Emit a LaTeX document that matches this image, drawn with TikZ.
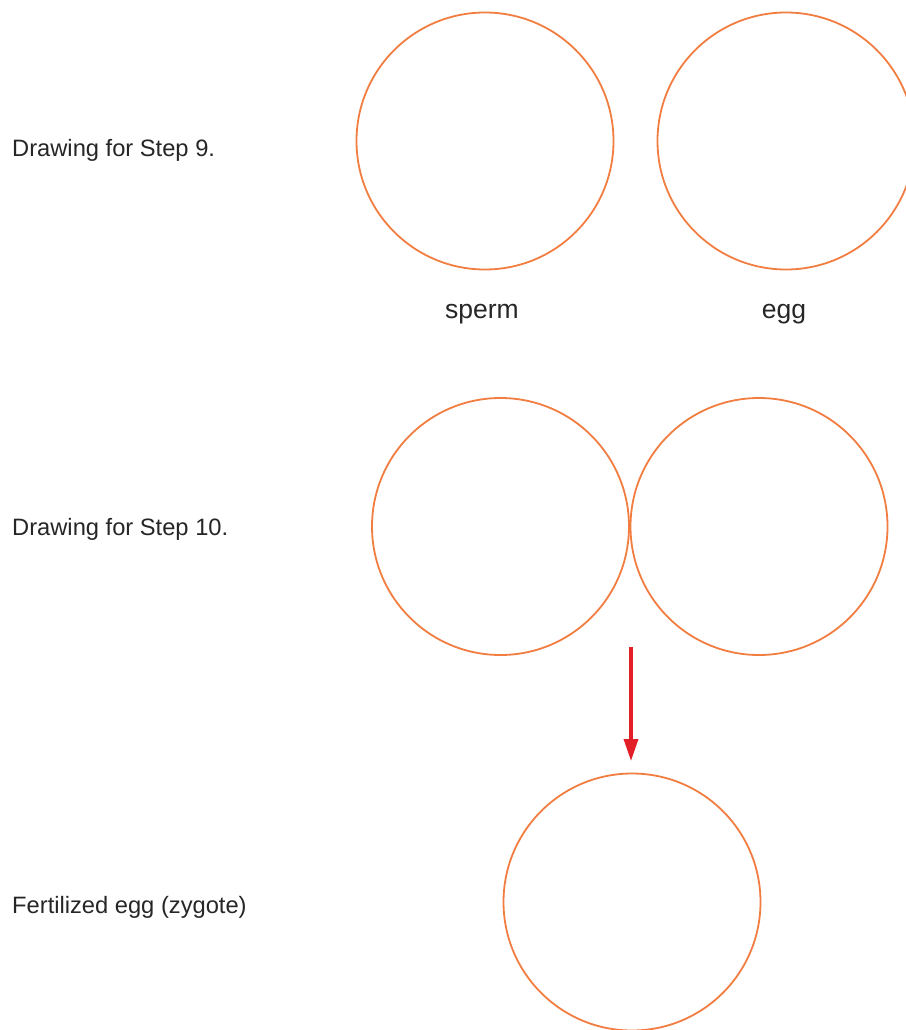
\documentclass[tikz,border=0pt]{standalone}
\usepackage{fontspec}
\setmainfont{Liberation Sans}
\usetikzlibrary{arrows.meta}
\definecolor{cellorange}{RGB}{242,125,64}
\definecolor{arrowred}{RGB}{226,30,38}
\begin{document}
\begin{tikzpicture}[
    x=1pt, y=-1pt,
    cell_style/.style={circle, draw=cellorange, line width=1.8pt, minimum size=257pt, inner sep=0pt},
    step_txt/.style={anchor=base west, inner sep=0pt, font=\fontsize{23.7}{28}\selectfont, color=black!85},
    lbl_txt/.style={anchor=base, inner sep=0pt, font=\fontsize{26.5}{31}\selectfont, color=black!85},
    fuse/.style={-{Triangle[length=22pt, width=14pt]}, line width=3.5pt, color=arrowred}
]
\useasboundingbox (0,0) rectangle (905,1030);
% Step 9
\node[step_txt] (txt9) at (12,156) {Drawing for Step 9.};
\node[cell_style] (sperm) at (485,141) {};
\node[cell_style] (egg) at (786,141) {};
\node[lbl_txt] (spermlbl) at (482,318) {sperm};
\node[lbl_txt] (egglbl) at (784,318) {egg};

% Step 10
\node[step_txt] (txt10) at (12,535) {Drawing for Step 10.};
\node[cell_style] (sperm2) at (500.5,526.5) {};
\node[cell_style] (egg2) at (759,526.5) {};

% Zygote
\coordinate (arrstart) at (631,647);
\coordinate (arrend) at (631,761);
\draw[fuse] (arrstart) -- (arrend);
\node[step_txt] (txtzyg) at (12,913) {Fertilized egg (zygote)};
\node[cell_style] (zyg) at (632,902) {};
\end{tikzpicture}
\end{document}
